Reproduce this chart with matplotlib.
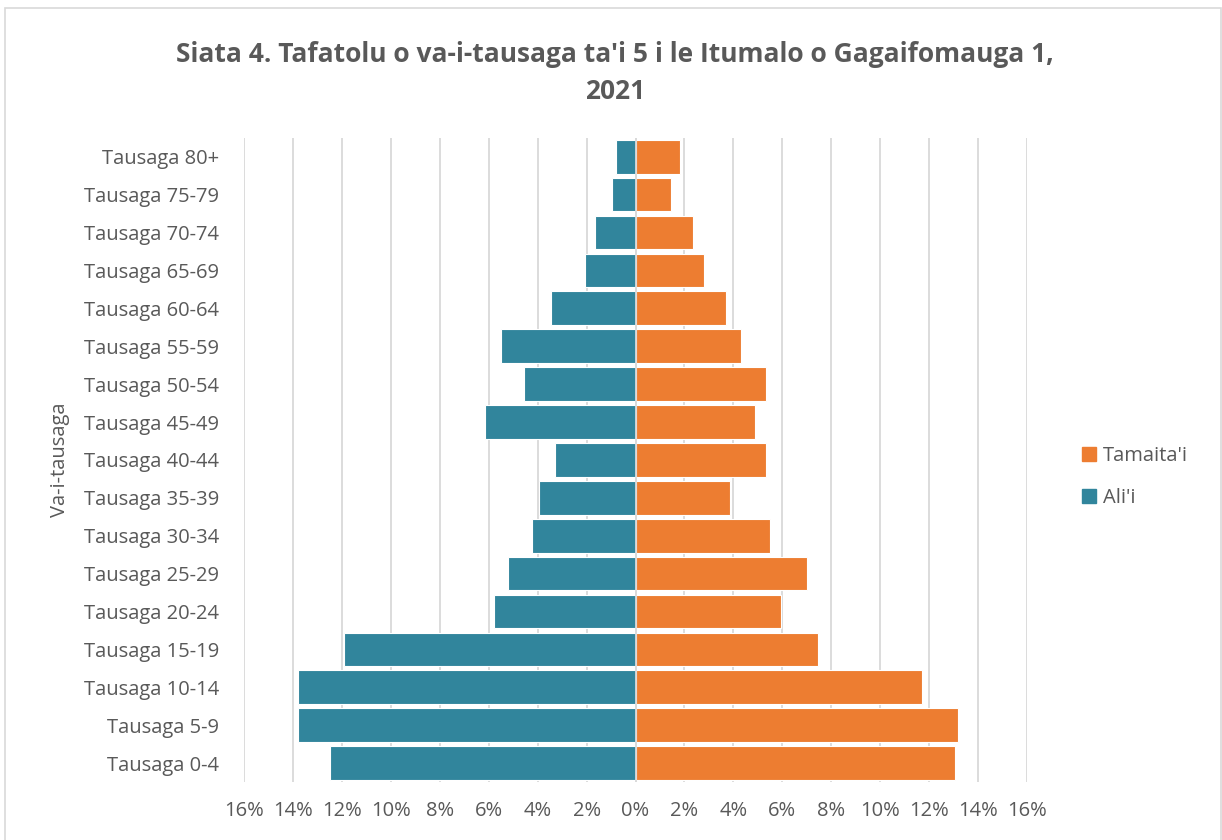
import matplotlib
matplotlib.use("Agg")
import matplotlib.pyplot as plt
from matplotlib.patches import Patch, Rectangle
from matplotlib.ticker import FuncFormatter, MultipleLocator

plt.rcParams["font.family"] = ["Open Sans", "DejaVu Sans"]

# -------------------------------------------------
# DATOS (porcentajes)
# -------------------------------------------------
age_groups = ["Tausaga 0-4", "Tausaga 5-9", "Tausaga 10-14", "Tausaga 15-19",
              "Tausaga 20-24", "Tausaga 25-29", "Tausaga 30-34", "Tausaga 35-39",
              "Tausaga 40-44", "Tausaga 45-49", "Tausaga 50-54", "Tausaga 55-59",
              "Tausaga 60-64", "Tausaga 65-69", "Tausaga 70-74", "Tausaga 75-79",
              "Tausaga 80+"]
alii = [12.5, 13.8, 13.8, 11.9, 5.8, 5.2, 4.25, 3.95, 3.3, 6.15, 4.55, 5.5,
        3.45, 2.05, 1.65, 0.95, 0.8]
tamaitai = [13.05, 13.2, 11.7, 7.45, 5.95, 7.0, 5.5, 3.85, 5.35, 4.9, 5.35, 4.3,
            3.7, 2.8, 2.35, 1.45, 1.8]

C_ALII = "#31859C"
C_TAMA = "#ED7D31"
GRAY_TXT = "#595959"

fig = plt.figure(figsize=(12.22, 8.4), dpi=100)
ax = fig.add_axes([0.1997, 0.069, 0.6407, 0.767])

y = list(range(len(age_groups)))
ax.barh(y, [-v for v in alii], height=0.89, color=C_ALII, edgecolor="white",
        linewidth=0.8, zorder=3, label="Ali'i")
ax.barh(y, tamaitai, height=0.89, color=C_TAMA, edgecolor="white",
        linewidth=0.8, zorder=3, label="Tamaita'i")

ax.set_xlim(-16, 16)
ax.set_ylim(-0.5, len(age_groups) - 0.5)
ax.xaxis.set_major_locator(MultipleLocator(2))
ax.xaxis.set_major_formatter(FuncFormatter(lambda v, p: f"{abs(v):.0f}%"))
ax.set_yticks(y)
ax.set_yticklabels(age_groups)
ax.grid(True, axis="x", color="#D9D9D9", linewidth=1.3, zorder=0)
ax.axvline(0, color="#D9D9D9", linewidth=1.3, zorder=4)
for s in ax.spines.values():
    s.set_visible(False)
ax.tick_params(axis="y", length=0, labelsize=14.5, colors=GRAY_TXT, pad=18)
ax.tick_params(axis="x", length=0, labelsize=14.5, colors=GRAY_TXT, pad=14)

ax.set_ylabel("Va-i-tausaga", fontsize=14.5, color=GRAY_TXT, labelpad=10)

fig.text(0.503, 0.913, "Siata 4. Tafatolu o va-i-tausaga ta'i 5 i le Itumalo o Gagaifomauga 1,\n2021",
         ha="center", va="center", fontsize=19, fontweight="bold", color=GRAY_TXT,
         linespacing=1.45)

handles = [Patch(color=C_TAMA, label="Tamaita'i"), Patch(color=C_ALII, label="Ali'i")]
fig.legend(handles=handles, loc="center left", bbox_to_anchor=(0.871, 0.432),
           frameon=False, fontsize=14.5, labelcolor=GRAY_TXT, handlelength=0.65,
           handleheight=0.65, handletextpad=0.35, labelspacing=1.1)

fig.patches.append(Rectangle((0.004, -0.01), 0.995, 1.0, transform=fig.transFigure,
                             fill=False, edgecolor="#D9D9D9", linewidth=1.2))

fig.savefig("out.png", dpi=100)
